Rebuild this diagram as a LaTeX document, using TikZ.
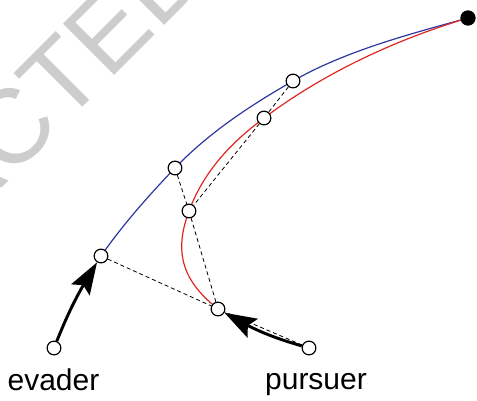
\documentclass[tikz,border=0pt]{standalone}
\usepackage{fontspec}
\setmainfont{Liberation Sans}
\usetikzlibrary{arrows.meta,bending}

\definecolor{evblue}{RGB}{45,55,160}
\definecolor{pured}{RGB}{220,40,35}
\definecolor{wmgray}{RGB}{205,205,205}

\begin{document}
\begin{tikzpicture}[x=0.75pt,y=-0.75pt,
  ptnode/.style={circle,draw,fill=white,line width=0.9pt,minimum size=10.3pt,inner sep=0pt},
  endnode/.style={circle,fill=black,minimum size=11.5pt,inner sep=0pt},
  evpath/.style={evblue,line width=0.9pt},
  pupath/.style={pured,line width=0.9pt},
  sight/.style={line width=0.6pt,dash pattern=on 3pt off 2.2pt},
  movearrow/.style={line width=2.2pt,-{Stealth[length=24pt,width=16pt,inset=4pt]}},
  lbl/.style={font=\fontsize{22.5}{26}\selectfont,inner sep=0pt,anchor=base},
  wm/.style={font=\fontsize{79}{90}\selectfont,text=wmgray,inner sep=0pt,anchor=base west,rotate=45}
]
\useasboundingbox (0,0) rectangle (477,400);
\clip (0,0) rectangle (477,400);

% watermark
\node[wm] (wm) at (-243,433) {RETRACTED};

% positions
\coordinate (ES) at (54,348);
\coordinate (E0) at (101,256);
\coordinate (E1) at (175,168);
\coordinate (E2) at (293,81);
\coordinate (PS) at (309,348);
\coordinate (P0) at (218,309);
\coordinate (P1) at (189,211);
\coordinate (P2) at (264,118);
\coordinate (C)  at (468,18);

% evader path (blue)
\draw[evpath] (E0) .. controls (122.7,224.8) and (148.8,195.4) .. (E1)
                   .. controls (208.8,132.7) and (250.5,105.3) .. (E2)
                   .. controls (345,51) and (410,34) .. (C);
% pursuer path (red)
\draw[pupath] (P0) .. controls (182.9,281.1) and (173.3,253.3) .. (P1)
                   .. controls (203.7,171.5) and (230.4,143.2) .. (P2)
                   .. controls (328,70) and (401,38) .. (C);

% points
\node[ptnode] (es) at (ES) {};
\node[ptnode] (e0) at (E0) {};
\node[ptnode] (e1) at (E1) {};
\node[ptnode] (e2) at (E2) {};
\node[ptnode] (ps) at (PS) {};
\node[ptnode] (p0) at (P0) {};
\node[ptnode] (p1) at (P1) {};
\node[ptnode] (p2) at (P2) {};
\node[endnode] (cap) at (C) {};

% lines of sight
\draw[sight] (e0) -- (p0);
\draw[sight] (e1) -- (p1);
\draw[sight] (p1) -- (p0);
\draw[sight] (e2) -- (p2);
\draw[sight] (p2) -- (p1);
\draw[sight] (ps) -- (p0);

% velocity arrows
\draw[movearrow] (es) to[bend left=5] (e0);
\draw[movearrow] (ps) to[bend left=7] (p0);

% labels
\node[lbl] (evlbl) at (53.5,390) {evader};
\node[lbl] (pulbl) at (316,389) {pursuer};
\end{tikzpicture}
\end{document}
